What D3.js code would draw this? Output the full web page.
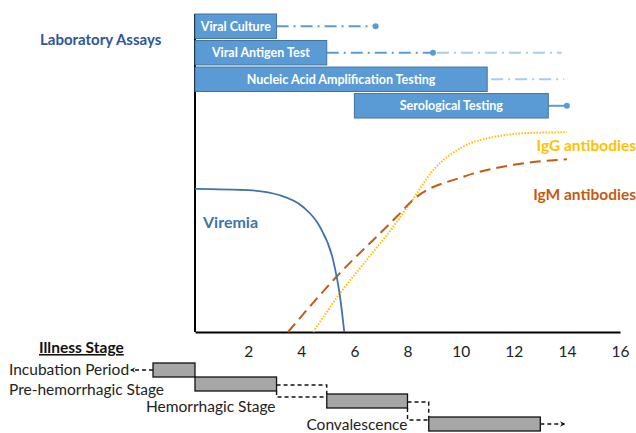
<!DOCTYPE html>
<html lang="en">
<head>
  <meta charset="UTF-8">
  <title>Dengue diagnostics timeline</title>
  <script src="https://d3js.org/d3.v7.min.js"></script>
  <style>
    body { margin: 0; background: #fff; }
    text { font-family: Lato, "Open Sans", sans-serif; }
  </style>
</head>
<body>
  <svg width="636" height="433"></svg>

  <script>
    // ---- data (days since illness onset) ----
    const assayNames = ["Viral Culture", "Viral Antigen Test", "Nucleic Acid Amplification Testing", "Serological Testing"];
    const assayStart = [0, 0, 0, 6.0];
    const assayEnd   = [3.07, 4.96, 11.0, 13.3];
    const assayDot   = [6.8, 8.96, null, 14.0];   // detection still possible up to here
    const assayFaint = [null, 13.8, 13.9, null];  // occasional detection

    const viremiaDay = [0, 2.0, 3.2, 4.06, 4.7, 5.2, 5.46, 5.62];
    const viremiaVal = [45, 44.6, 43, 39.4, 33.1, 22.6, 11.1, 0];

    const igmDay = [3.5, 5.33, 7.6, 8.2, 10.1, 12.0, 14.0];
    const igmVal = [0, 17.4, 36.3, 41.5, 48.8, 52.6, 54.3];

    const iggDay = [4.45, 5.46, 6.47, 7.47, 8.1, 8.98, 10.1, 11.36, 12.6, 14.0];
    const iggVal = [0, 12.2, 22.7, 33.2, 40.5, 51, 58.3, 61.5, 62.6, 62.8];

    const stageNames = ["Incubation Period", "Pre-hemorrhagic Stage", "Hemorrhagic Stage", "Convalescence"];
    const stageStart = [-1.58, 0, 4.96, 8.8];
    const stageEnd   = [0, 3.07, 8.0, 13.0];

    const xTicks = [2, 4, 6, 8, 10, 12, 14, 16];

    // ---- layout ----
    const svg = d3.select("svg");
    const x = d3.scaleLinear().domain([0, 16]).range([195, 620]);
    const y = d3.scaleLinear().domain([0, 100]).range([332, 14]);
    const row = d3.scaleBand().domain(assayNames).range([14, 118]).paddingInner(0.08);

    const blue = "#5B9BD5", blueDark = "#41719C", blueFaint = "#A9CCEB";

    // axes
    svg.append("line").attr("x1", x(0)).attr("x2", x(0)).attr("y1", 14).attr("y2", y(0))
        .attr("stroke", "#000").attr("stroke-width", 2);

    const xAxis = svg.append("g")
        .attr("transform", `translate(0,${y(0)})`)
        .call(d3.axisBottom(x).tickValues(xTicks).tickSize(0).tickSizeOuter(0).tickPadding(14));
    xAxis.select(".domain").attr("stroke", "#000").attr("stroke-width", 2);
    xAxis.selectAll("text").attr("font-size", 15.5).attr("fill", "#222")
        .style("font-family", "Lato, sans-serif");

    // ---- curves ----
    const line = d3.line().x(d => x(d[0])).y(d => y(d[1])).curve(d3.curveMonotoneX);

    svg.append("path")
        .datum(d3.zip(iggDay, iggVal))
        .attr("d", line).attr("fill", "none")
        .attr("stroke", "#FFC000").attr("stroke-width", 2).attr("stroke-dasharray", "1.5,1.5");

    svg.append("path")
        .datum(d3.zip(igmDay, igmVal))
        .attr("d", line).attr("fill", "none")
        .attr("stroke", "#C55A11").attr("stroke-width", 2).attr("stroke-dasharray", "11,6");

    svg.append("path")
        .datum(d3.zip(viremiaDay, viremiaVal))
        .attr("d", line).attr("fill", "none")
        .attr("stroke", "#3F73AA").attr("stroke-width", 1.8);

    svg.append("text").attr("x", 203).attr("y", 228).text("Viremia")
        .attr("font-size", 16).attr("font-weight", "bold").attr("fill", "#3A73AE");
    svg.append("text").attr("x", 636).attr("y", 151).attr("text-anchor", "end").text("IgG antibodies")
        .attr("font-size", 15.5).attr("font-weight", "bold").attr("fill", "#FFC000");
    svg.append("text").attr("x", 636).attr("y", 200).attr("text-anchor", "end").text("IgM antibodies")
        .attr("font-size", 15.5).attr("font-weight", "bold").attr("fill", "#C55A11");

    // ---- laboratory assays ----
    svg.append("text").attr("x", 40).attr("y", 45).text("Laboratory Assays")
        .attr("font-size", 15).attr("font-weight", "bold").attr("fill", "#2F5597");

    const assays = assayNames.map((name, i) => ({
      name, start: assayStart[i], end: assayEnd[i], dot: assayDot[i], faint: assayFaint[i], i
    }));

    const ag = svg.append("g");
    assays.forEach(a => {
      const cy = row(a.name) + row.bandwidth() / 2;
      let from = x(a.end);
      if (a.dot != null) {
        ag.append("line").attr("x1", from).attr("x2", x(a.dot)).attr("y1", cy).attr("y2", cy)
            .attr("stroke", blue).attr("stroke-width", 2)
            .attr("stroke-dasharray", a.i === 3 ? null : "12,5,2,5");
        ag.append("circle").attr("cx", x(a.dot)).attr("cy", cy).attr("r", 3).attr("fill", blue);
        from = x(a.dot);
      }
      if (a.faint != null) {
        ag.append("line").attr("x1", from + 4).attr("x2", x(a.faint)).attr("y1", cy).attr("y2", cy)
            .attr("stroke", blueFaint).attr("stroke-width", 2).attr("stroke-dasharray", "12,5,2,5");
      }
    });

    ag.selectAll("rect").data(assays).join("rect")
        .attr("x", d => x(d.start)).attr("width", d => x(d.end) - x(d.start))
        .attr("y", d => row(d.name)).attr("height", row.bandwidth())
        .attr("fill", blue).attr("stroke", blueDark).attr("stroke-width", 1);

    ag.selectAll("text.lbl").data(assays).join("text").attr("class", "lbl")
        .attr("x", d => (x(d.start) + x(d.end)) / 2)
        .attr("y", d => row(d.name) + row.bandwidth() / 2 + 4.5)
        .attr("text-anchor", "middle").attr("font-size", 12.5).attr("font-weight", "bold")
        .attr("fill", "#fff").text(d => d.name);

    // ---- illness stages ----
    const stageTop = [363, 377, 394, 417];
    const boxH = 14;

    svg.append("text").attr("x", 39).attr("y", 353).text("Illness Stage")
        .attr("font-size", 15.5).attr("font-weight", "bold").attr("fill", "#111")
        .attr("text-decoration", "underline");

    const sg = svg.append("g");
    const dash = { stroke: "#111", "stroke-width": 1.4, "stroke-dasharray": "4,3", fill: "none" };
    const applyDash = sel => { Object.entries(dash).forEach(([k, v]) => sel.attr(k, v)); return sel; };

    // connectors between overlapping-uncertain stage transitions
    for (let i = 1; i < stageNames.length - 1; i++) {
      const x0 = x(stageEnd[i]), x1 = x(stageStart[i + 1]);
      const yUp = stageTop[i] + boxH / 2 + 1, yTop = stageTop[i + 1];
      applyDash(sg.append("path").attr("d", `M${x0},${yUp}H${x1}V${yTop}`));
      applyDash(sg.append("path").attr("d", `M${x0},${stageTop[i] + boxH}V${yTop + 3}H${x1}`));
    }

    // arrows at both ends
    const defs = svg.append("defs");
    defs.append("marker").attr("id", "arr").attr("viewBox", "0 0 10 10").attr("refX", 8).attr("refY", 5)
        .attr("markerWidth", 4).attr("markerHeight", 4).attr("orient", "auto-start-reverse")
        .append("path").attr("d", "M0,0L10,5L0,10L4,5Z").attr("fill", "#111");

    const c0 = stageTop[0] + boxH / 2;
    applyDash(sg.append("line").attr("x1", x(stageStart[0])).attr("x2", x(stageStart[0]) - 22)
        .attr("y1", c0).attr("y2", c0)).attr("marker-end", "url(#arr)");
    const last = stageNames.length - 1;
    const c3 = stageTop[last] + boxH / 2;
    applyDash(sg.append("line").attr("x1", x(stageEnd[last])).attr("x2", x(stageEnd[last]) + 24)
        .attr("y1", c3).attr("y2", c3)).attr("marker-end", "url(#arr)");

    sg.selectAll("rect").data(stageNames).join("rect")
        .attr("x", (d, i) => x(stageStart[i]))
        .attr("width", (d, i) => x(stageEnd[i]) - x(stageStart[i]))
        .attr("y", (d, i) => stageTop[i]).attr("height", boxH)
        .attr("fill", "#A6A6A6").attr("stroke", "#111").attr("stroke-width", 1.3);

    // stage labels: first two flush left, later ones end under previous box
    const labelPos = [
      { x: 9, y: 375, anchor: "start" },
      { x: 9, y: 395, anchor: "start" },
      { x: x(stageEnd[1]) - 1, y: 412, anchor: "end" },
      { x: x(stageEnd[2]), y: 430, anchor: "end" }
    ];
    sg.selectAll("text").data(stageNames).join("text")
        .attr("x", (d, i) => labelPos[i].x).attr("y", (d, i) => labelPos[i].y)
        .attr("text-anchor", (d, i) => labelPos[i].anchor)
        .attr("font-size", 15.5).attr("fill", "#222").text(d => d);
  </script>
</body>
</html>
